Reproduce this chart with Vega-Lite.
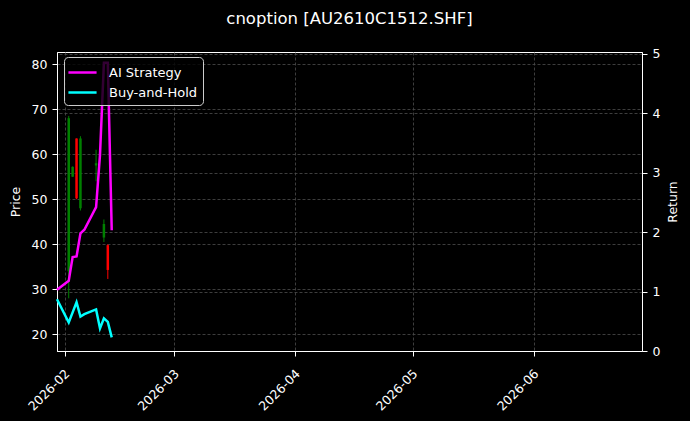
{
  "$schema": "https://vega.github.io/schema/vega-lite/v6.json",
  "description": "Option price candles with AI strategy and buy-and-hold returns",
  "width": 585,
  "height": 299,
  "autosize": "none",
  "padding": {"left": 57, "top": 52, "right": 48, "bottom": 70},
  "background": "#000000",
  "title": {
    "text": "cnoption [AU2610C1512.SHF]",
    "color": "white",
    "fontSize": 16.5,
    "font": "DejaVu Sans",
    "fontWeight": "normal",
    "offset": 20
  },
  "config": {
    "font": "DejaVu Sans",
    "view": {"stroke": "white", "strokeWidth": 1, "fill": "#000000"},
    "axis": {
      "labelColor": "white",
      "titleColor": "white",
      "tickColor": "white",
      "domainColor": "white",
      "labelFont": "DejaVu Sans",
      "titleFont": "DejaVu Sans",
      "labelFontSize": 12.5,
      "titleFontSize": 12.5,
      "titleFontWeight": "normal",
      "gridColor": "#4d4d4d",
      "gridDash": [3, 2],
      "gridWidth": 0.8,
      "tickSize": 5,
      "labelPadding": 5
    }
  },
  "datasets": {
    "candles": [
      {"date": "2026-02-02", "open": 34, "high": 68.5, "low": 28, "close": 68},
      {"date": "2026-02-03", "open": 55, "high": 57.3, "low": 55, "close": 57.2},
      {"date": "2026-02-04", "open": 63.5, "high": 63.5, "low": 50, "close": 50.2},
      {"date": "2026-02-05", "open": 48, "high": 64, "low": 47.5, "close": 63.5},
      {"date": "2026-02-09", "open": 57.5, "high": 61, "low": 54, "close": 58},
      {"date": "2026-02-11", "open": 41.5, "high": 45.5, "low": 40.5, "close": 44.5},
      {"date": "2026-02-12", "open": 39.8, "high": 40, "low": 32.3, "close": 34.3}
    ],
    "returns": [
      {"date": "2026-01-30", "series": "AI Strategy", "value": 1.03},
      {"date": "2026-02-02", "series": "AI Strategy", "value": 1.18},
      {"date": "2026-02-03", "series": "AI Strategy", "value": 1.58},
      {"date": "2026-02-04", "series": "AI Strategy", "value": 1.59},
      {"date": "2026-02-05", "series": "AI Strategy", "value": 1.98},
      {"date": "2026-02-06", "series": "AI Strategy", "value": 2.04},
      {"date": "2026-02-09", "series": "AI Strategy", "value": 2.42},
      {"date": "2026-02-10", "series": "AI Strategy", "value": 3.3},
      {"date": "2026-02-11", "series": "AI Strategy", "value": 4.85},
      {"date": "2026-02-12", "series": "AI Strategy", "value": 4.85},
      {"date": "2026-02-13", "series": "AI Strategy", "value": 2.03},
      {"date": "2026-01-30", "series": "Buy-and-Hold", "value": 0.87},
      {"date": "2026-02-02", "series": "Buy-and-Hold", "value": 0.48},
      {"date": "2026-02-03", "series": "Buy-and-Hold", "value": 0.65},
      {"date": "2026-02-04", "series": "Buy-and-Hold", "value": 0.82},
      {"date": "2026-02-05", "series": "Buy-and-Hold", "value": 0.58},
      {"date": "2026-02-06", "series": "Buy-and-Hold", "value": 0.62},
      {"date": "2026-02-09", "series": "Buy-and-Hold", "value": 0.7},
      {"date": "2026-02-10", "series": "Buy-and-Hold", "value": 0.38},
      {"date": "2026-02-11", "series": "Buy-and-Hold", "value": 0.55},
      {"date": "2026-02-12", "series": "Buy-and-Hold", "value": 0.49},
      {"date": "2026-02-13", "series": "Buy-and-Hold", "value": 0.23}
    ]
  },
  "encoding": {
    "x": {
      "field": "date",
      "type": "temporal",
      "title": null,
      "scale": {
        "type": "utc",
        "padding": 0,
        "domain": [
          {"year": 2026, "month": 1, "date": 30, "utc": true},
          {"year": 2026, "month": 6, "date": 28, "hours": 16, "utc": true}
        ]
      },
      "axis": {
        "values": [
          {"year": 2026, "month": 2, "date": 1, "utc": true},
          {"year": 2026, "month": 3, "date": 1, "utc": true},
          {"year": 2026, "month": 4, "date": 1, "utc": true},
          {"year": 2026, "month": 5, "date": 1, "utc": true},
          {"year": 2026, "month": 6, "date": 1, "utc": true}
        ],
        "labelExpr": "utcFormat(datum.value, '%Y-%m')",
        "labelAngle": -45,
        "labelAlign": "right",
        "labelBaseline": "top",
        "labelPadding": 11,
        "labelOffset": -2,
        "grid": true
      }
    }
  },
  "layer": [
    {
      "data": {"name": "candles"},
      "encoding": {
        "color": {
          "condition": {"test": "datum.close >= datum.open", "value": "#008000"},
          "value": "#ff0000"
        }
      },
      "layer": [
        {
          "mark": {"type": "rule", "strokeWidth": 1},
          "encoding": {
            "y": {
              "field": "low",
              "type": "quantitative",
              "scale": {"domain": [16.3, 82.7], "nice": false, "zero": false},
              "axis": {"title": "Price", "values": [20, 30, 40, 50, 60, 70, 80], "grid": true, "titlePadding": 9}
            },
            "y2": {"field": "high"}
          }
        },
        {
          "mark": {"type": "bar", "size": 2.5},
          "encoding": {
            "y": {"field": "open", "type": "quantitative"},
            "y2": {"field": "close"}
          }
        }
      ]
    },
    {
      "data": {"name": "returns"},
      "mark": {"type": "line", "strokeWidth": 2.5},
      "encoding": {
        "y": {
          "field": "value",
          "type": "quantitative",
          "scale": {"domain": [0, 5.03], "nice": false, "zero": false},
          "axis": {
            "orient": "right",
            "title": "Return",
            "titleAngle": 270,
            "titlePadding": 20,
            "values": [0, 1, 2, 3, 4, 5],
            "grid": true
          }
        },
        "color": {
          "field": "series",
          "type": "nominal",
          "scale": {"domain": ["AI Strategy", "Buy-and-Hold"], "range": ["#ff00ff", "#00ffff"]},
          "legend": {
            "title": null,
            "orient": "none",
            "legendX": 7,
            "legendY": 5,
            "fillColor": "rgba(0,0,0,0.8)",
            "strokeColor": "#cccccc",
            "cornerRadius": 4,
            "padding": 5,
            "labelColor": "white",
            "labelFont": "DejaVu Sans",
            "labelFontSize": 13,
            "symbolType": "M-1.55,0H1.55",
            "symbolSize": 330,
            "symbolStrokeWidth": 2.5,
            "symbolOffset": 3,
            "labelOffset": 16,
            "rowPadding": 2
          }
        }
      }
    }
  ],
  "resolve": {"scale": {"y": "independent"}, "axis": {"y": "independent"}}
}
